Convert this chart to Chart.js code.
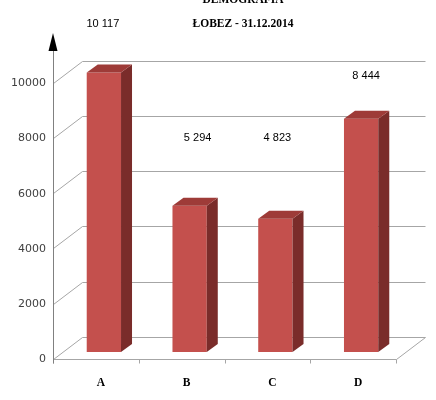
<!DOCTYPE html>
<html>
<head>
<meta charset="utf-8">
<script src="https://cdn.jsdelivr.net/npm/chart.js@4.4.1/dist/chart.umd.min.js"></script>
<style>
  html, body { margin: 0; padding: 0; background: #fff; }
</style>
</head>
<body>
<canvas id="demoChart" width="436" height="400"></canvas>
<script>
const categories = ['A', 'B', 'C', 'D'];
const population = [10117, 5294, 4823, 8444];
const valueLabels = ['10 117', '5 294', '4 823', '8 444'];
const yTicks = [0, 2000, 4000, 6000, 8000, 10000];
const titleLines = ['DEMOGRAFIA', 'ŁOBEZ - 31.12.2014'];

const frontColor = '#c4504d';
const topColor = '#9e3b38';
const sideColor = '#7a2c2a';
const gridColor = '#a6a6a6';

// offsets of the front plane and back wall relative to the bar plane
const FRONT = { dx: -8, dy: 7 };
const BACK = { dx: 21, dy: -15 };
const DEPTH = { dx: 11, dy: -8 };

function line(ctx, x1, y1, x2, y2) {
    ctx.beginPath();
    ctx.moveTo(x1, y1);
    ctx.lineTo(x2, y2);
    ctx.stroke();
}

const pseudo3d = {
    id: 'pseudo3d',
    beforeDatasetsDraw(chart) {
        const ctx = chart.ctx;
        const a = chart.chartArea;
        const y = chart.scales.y;
        const fx = Math.round(a.left + FRONT.dx) + 0.5;
        const bx = Math.round(a.left + BACK.dx) + 0.5;
        const brx = Math.round(a.right + BACK.dx) + 0.5;
        const frx = Math.round(a.right + FRONT.dx) + 0.5;
        const p0 = y.getPixelForValue(0);
        const f0 = Math.round(p0 + FRONT.dy) + 0.5;
        const b0 = Math.round(p0 + BACK.dy) + 0.5;

        ctx.save();
        ctx.lineWidth = 1;
        ctx.strokeStyle = gridColor;
        yTicks.forEach(v => {
            const p = y.getPixelForValue(v);
            const fy = Math.round(p + FRONT.dy) + 0.5;
            const by = Math.round(p + BACK.dy) + 0.5;
            line(ctx, fx, fy, bx, by);
            line(ctx, bx, by, brx, by);
        });
        // floor
        line(ctx, fx, f0, frx, f0);
        line(ctx, frx, f0, brx, b0);
        const step = (a.right - a.left) / categories.length;
        for (let i = 0; i <= categories.length; i++) {
            const tx = Math.round(a.left + FRONT.dx + i * step) + 0.5;
            line(ctx, tx, f0, tx, f0 + 4);
        }
        // value axis with arrow
        ctx.strokeStyle = '#808080';
        line(ctx, fx, 48, fx, f0 + 4);
        ctx.fillStyle = '#000';
        ctx.beginPath();
        ctx.moveTo(fx - 0.5, 33);
        ctx.lineTo(fx + 4, 51);
        ctx.lineTo(fx - 5, 51);
        ctx.closePath();
        ctx.fill();
        ctx.restore();
    },
    afterDatasetsDraw(chart) {
        const ctx = chart.ctx;
        ctx.save();
        chart.getDatasetMeta(0).data.forEach(bar => {
            const { x, y, width, base } = bar.getProps(['x', 'y', 'width', 'base'], true);
            const l = x - width / 2, r = x + width / 2;
            ctx.fillStyle = sideColor;
            ctx.beginPath();
            ctx.moveTo(r, y);
            ctx.lineTo(r + DEPTH.dx, y + DEPTH.dy);
            ctx.lineTo(r + DEPTH.dx, base + DEPTH.dy);
            ctx.lineTo(r, base);
            ctx.closePath();
            ctx.fill();
            ctx.fillStyle = topColor;
            ctx.beginPath();
            ctx.moveTo(l, y);
            ctx.lineTo(r, y);
            ctx.lineTo(r + DEPTH.dx, y + DEPTH.dy);
            ctx.lineTo(l + DEPTH.dx, y + DEPTH.dy);
            ctx.closePath();
            ctx.fill();
        });
        ctx.restore();
    },
    afterDraw(chart, args, opts) {
        const ctx = chart.ctx;
        const y = chart.scales.y;
        ctx.save();
        // titles
        ctx.font = 'bold 11.5px "Liberation Serif"';
        ctx.fillStyle = '#000';
        ctx.textAlign = 'center';
        ctx.textBaseline = 'alphabetic';
        ctx.fillText(titleLines[0], opts.titleX, 3);
        ctx.textBaseline = 'middle';
        ctx.fillText(titleLines[1], opts.titleX, 24);
        // value labels
        ctx.font = '11px "Liberation Sans"';
        chart.getDatasetMeta(0).data.forEach((bar, i) => {
            ctx.fillText(valueLabels[i], bar.x + opts.labelShift[i], y.getPixelForValue(opts.labelLevel[i]));
        });
        ctx.restore();
    }
};

new Chart(document.getElementById('demoChart'), {
    type: 'bar',
    data: {
        labels: categories,
        datasets: [{
            data: population,
            backgroundColor: frontColor,
            borderWidth: 0,
            categoryPercentage: 1,
            barPercentage: 0.4
        }]
    },
    plugins: [pseudo3d],
    options: {
        responsive: false,
        animation: false,
        layout: { padding: { top: 48, right: 32, left: 0, bottom: 0 } },
        scales: {
            x: {
                afterFit(scale) { scale.height = 48; },
                grid: { display: false, drawTicks: false },
                border: { display: false },
                ticks: {
                    padding: 24,
                    labelOffset: -3,
                    color: '#000',
                    font: { family: '"Liberation Serif"', size: 11.5, weight: 'bold' }
                }
            },
            y: {
                min: 0,
                max: 11000,
                afterFit(scale) { scale.width = 61; },
                afterBuildTicks(scale) { scale.ticks = yTicks.map(v => ({ value: v })); },
                grid: { display: false, drawTicks: false },
                border: { display: false },
                ticks: {
                    padding: 15,
                    labelOffset: 7.5,
                    color: '#404040',
                    font: { family: '"DejaVu Sans"', size: 11 },
                    callback: v => String(v)
                }
            }
        },
        plugins: {
            legend: { display: false },
            tooltip: { enabled: false },
            pseudo3d: {
                titleX: 243,
                labelLevel: [11880, 7750, 7750, 10000],
                labelShift: [-1, 8, 2, 5]
            }
        }
    }
});
</script>
</body>
</html>
